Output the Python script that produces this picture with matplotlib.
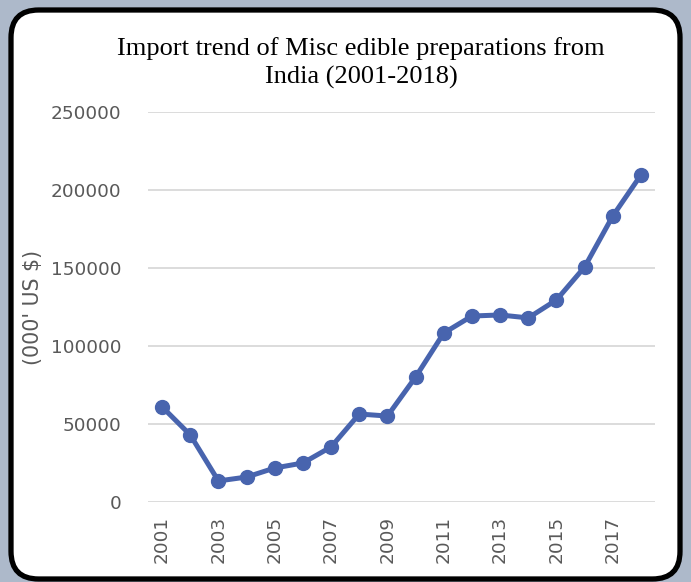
import matplotlib
matplotlib.use("Agg")
import matplotlib.pyplot as plt
from matplotlib.patches import FancyBboxPatch

years = list(range(2001, 2019))
imports = [61000, 43000, 13500, 16000, 21800, 25000, 35300, 56400, 55100,
           80100, 108300, 119200, 119900, 118000, 129500, 150600, 183300, 209600]
year_ticks = list(range(2001, 2019, 2))
value_ticks = [0, 50000, 100000, 150000, 200000, 250000]

W, H = 691, 582
fig = plt.figure(figsize=(W / 100, H / 100), dpi=100)
fig.patch.set_facecolor("#adb9ca")

# white rounded card with a thick black border
card = FancyBboxPatch((11 / W, 3 / H), (W - 22) / W, (H - 13) / H,
                      boxstyle="round,pad=0,rounding_size=0.04",
                      transform=fig.transFigure, facecolor="white",
                      edgecolor="black", linewidth=3.8, zorder=-1,
                      mutation_aspect=W / H)
fig.patches.append(card)

ax = fig.add_axes([148 / W, 1 - 502 / H, (655 - 148) / W, (502 - 112) / H])
ax.set_zorder(2)
ax.set_facecolor("none")
ax.plot(years, imports, color="#4864ae", lw=3.6, marker="o", ms=10,
        solid_capstyle="round", zorder=3)

ax.set_xlim(2000.5, 2018.5)
ax.set_ylim(0, 250000)
ax.set_yticks(value_ticks)
ax.set_yticklabels([str(v) for v in value_ticks])
ax.set_xticks(year_ticks)
ax.set_xticklabels([str(y) for y in year_ticks], rotation=90)
ax.tick_params(axis="both", length=0, labelsize=13.3, labelcolor="#595959")
ax.tick_params(axis="y", pad=19)
ax.tick_params(axis="x", pad=10)
ax.grid(axis="y", color="#d9d9d9", lw=1.3)
ax.set_axisbelow(True)
for s in ax.spines.values():
    s.set_visible(False)

ax.set_ylabel("(000' US $)", fontsize=14.8, color="#595959")
ax.yaxis.set_label_coords(-0.208, 0.5)

fig.text(361 / W, 1 - 63 / H,
         "Import trend of Misc edible preparations from\nIndia (2001-2018)",
         ha="center", va="center", fontsize=19, family="Liberation Serif",
         linespacing=1.35)

fig.savefig("out.png", dpi=100, facecolor=fig.get_facecolor())
